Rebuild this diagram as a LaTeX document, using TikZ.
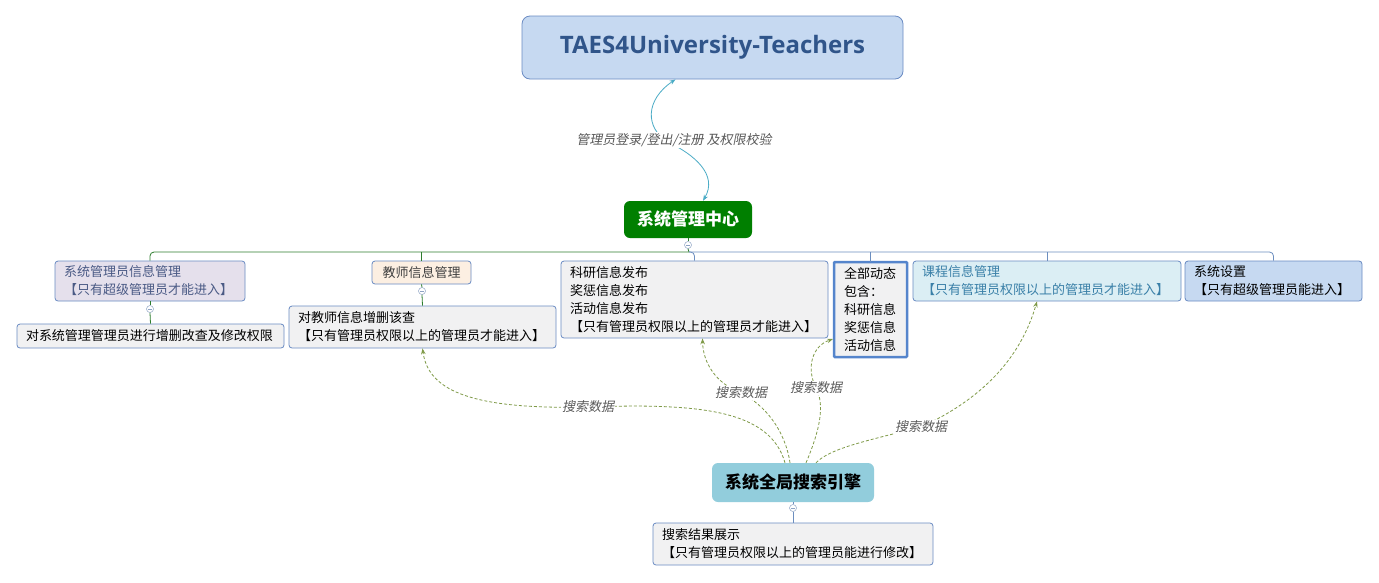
\documentclass[tikz,border=0pt]{standalone}
\usepackage{fontspec}
\setmainfont{Noto Sans CJK SC}
\newfontfamily\lblfont{Noto Sans CJK SC}[FakeSlant=0.2]
\newfontfamily\titlefont{Open Sans}
\usetikzlibrary{arrows.meta,calc}
\definecolor{bordc}{HTML}{6A8BC3}
\definecolor{qbbord}{HTML}{5585CC}
\definecolor{titlefill}{HTML}{C6D9F1}
\definecolor{titletext}{HTML}{30558A}
\definecolor{centergreen}{HTML}{007F00}
\definecolor{treegreen}{HTML}{2E7D2E}
\definecolor{treeblue}{HTML}{6C8EBF}
\definecolor{safill}{HTML}{E5E0EC}
\definecolor{satext}{HTML}{4A5A85}
\definecolor{tfill}{HTML}{FCEFE2}
\definecolor{grayfill}{HTML}{F1F1F2}
\definecolor{kcfill}{HTML}{DBEEF4}
\definecolor{kctext}{HTML}{3A80A8}
\definecolor{enginefill}{HTML}{92CDDC}
\definecolor{searchc}{HTML}{7F9A48}
\definecolor{loginc}{HTML}{4BACC6}
\definecolor{lblgray}{HTML}{595959}
\definecolor{collc}{HTML}{8EA3C4}
\tikzset{
  box/.style={draw=bordc, line width=0.8pt, rounded corners=3pt, inner xsep=9pt,
    inner ysep=0pt, align=left, font=\fontsize{13}{18}\selectfont},
  bigbox/.style={rounded corners=6pt, inner sep=0pt, align=center,
    font=\fontsize{17}{20}\selectfont\bfseries},
  collapse/.style={circle, draw=collc, fill=white, minimum size=7pt, inner sep=0pt,
    line width=0.5pt, path picture={\draw[collc, line width=0.5pt]
      ([xshift=-2pt]path picture bounding box.center) --
      ([xshift=2pt]path picture bounding box.center);}},
  search/.style={draw=searchc, line width=0.8pt, dash pattern=on 3pt off 2pt,
    -{Stealth[length=6pt,width=4.5pt,fill=searchc]}},
  lbl/.style={fill=white, inner sep=1pt, text=lblgray,
    font=\fontsize{13}{15}\lblfont},
  treeg/.style={draw=treegreen, line width=0.8pt, rounded corners=4pt},
  treeb/.style={draw=treeblue, line width=0.8pt, rounded corners=4pt},
}
\begin{document}
\begin{tikzpicture}[x=1pt,y=-1pt]
\fill[white] (0,0) rectangle (1379,582);
\useasboundingbox (0,0) rectangle (1379,582);

% title
\node[draw=bordc, fill=titlefill, line width=0.8pt, rounded corners=8pt,
  minimum width=381pt, minimum height=63pt, inner sep=0pt, text=titletext,
  font=\fontsize{24}{28}\titlefont\bfseries] (title) at (712.5,47.5) {TAES4University-Teachers};

% centre
\node[bigbox, fill=centergreen, text=white, minimum width=128pt, minimum height=37pt]
  (center) at (688,219.5) {系统管理中心};

% first level boxes
\node[box, fill=safill, text=satext, minimum width=190pt, minimum height=40pt, text width=172pt]
  (sa) at (150,281) {系统管理员信息管理\\【只有超级管理员才能进入】};
\node[box, fill=tfill, text=black!75, align=center, minimum width=99pt, minimum height=23pt, text width=81pt]
  (tc) at (421.5,272.5) {教师信息管理};
\node[box, fill=grayfill, minimum width=267pt, minimum height=77pt, text width=249pt]
  (ky) at (694.5,299.5) {科研信息发布\\奖惩信息发布\\活动信息发布\\【只有管理员权限以上的管理员才能进入】};
\node[box, draw=qbbord, line width=2.5pt, rounded corners=1pt, fill=grayfill,
  inner xsep=10pt, minimum width=73pt, minimum height=95pt, text width=53pt]
  (qb) at (870.5,309.5) {全部动态\\包含：\\科研信息\\奖惩信息\\活动信息};
\node[box, fill=kcfill, text=kctext, minimum width=268pt, minimum height=40pt, text width=250pt]
  (kc) at (1047,281) {课程信息管理\\【只有管理员权限以上的管理员才能进入】};
\node[box, fill=titlefill, minimum width=177pt, minimum height=40pt, text width=159pt]
  (ss) at (1273.5,281) {系统设置\\【只有超级管理员能进入】};

% second level
\node[box, fill=grayfill, minimum width=267pt, minimum height=24pt, text width=249pt]
  (sac) at (150.5,336) {对系统管理管理员进行增删改查及修改权限};
\node[box, fill=grayfill, minimum width=267pt, minimum height=42pt, text width=249pt]
  (tcc) at (422.5,327) {对教师信息增删该查\\【只有管理员权限以上的管理员才能进入】};

% engine
\node[bigbox, fill=enginefill, text=black, minimum width=162pt, minimum height=39pt]
  (engine) at (793,482.5) {系统全局搜索引擎};
\node[box, fill=grayfill, minimum width=280pt, minimum height=42pt, text width=262pt]
  (res) at (793,544) {搜索结果展示\\【只有管理员权限以上的管理员能进行修改】};

% collapse markers
\node[collapse] (c0) at (688,245) {};
\node[collapse] (c1) at (150,309) {};
\node[collapse] (c2) at (422,291) {};
\node[collapse] (c3) at (793,508) {};

% tree
\coordinate (hub) at (689,252);
\draw[treeg] (center.south) -- (c0.north);
\draw[treeg] (c0.south) -- (hub);
\draw[treeg] (hub) -| (sa.north);
\draw[treeg] (tc.north |- hub) -- (tc.north);
\draw[treeb] (hub) -| (ss.north);
\draw[treeb] (hub) -| (ky.north);
\draw[treeb] (qb.north |- hub) -- ([yshift=-1pt]qb.north);
\draw[treeb] (kc.north |- hub) -- (kc.north);
\draw[treeg] (sa.south) -- (c1.north);
\draw[treeg] (c1.south) -- (sac.north);
\draw[treeg] (tc.south) -- (c2.north);
\draw[treeg] (c2.south) -- (tcc.north);
\draw[treeb] (engine.south) -- (c3.north);
\draw[treeb] (c3.south) -- (res.north);

% login connector
\coordinate (lp) at (674,140);
\draw[draw=loginc, line width=0.8pt,
  {Stealth[length=6pt,width=4.5pt]}-{Stealth[length=6pt,width=4.5pt]}]
  ([xshift=-37pt]title.south) .. controls (645,100) and (645,128) .. (668,142)
  .. controls (695,155) and (718,175) .. ([xshift=15pt]center.north);
\node[lbl] (l0) at (lp) {管理员登录/登出/注册 及权限校验};

% search connectors
\coordinate (s1) at (588,407);
\coordinate (s2) at (741,393);
\coordinate (s3) at (816,388);
\coordinate (s4) at (921,427);
\coordinate (qbin) at (833,339);
\draw[search] ([xshift=-8pt]engine.north) .. controls (770,410) and (700,403) .. (s1)
  .. controls (465,410) and (428,388) .. (tcc.south);
\draw[search] ([xshift=-3pt]engine.north) .. controls (785,430) and (765,405) .. (s2)
  .. controls (715,383) and (703,362) .. ([xshift=8pt]ky.south);
\draw[search] ([xshift=13pt]engine.north) .. controls (820,430) and (825,405) .. (s3)
  .. controls (806,368) and (812,346) .. (qbin);
\draw[search] ([xshift=23pt]engine.north) .. controls (830,448) and (870,440) .. (s4)
  .. controls (980,400) and (1020,360) .. ([xshift=-10pt]kc.south);
\node[lbl] (l1) at (s1) {搜索数据};
\node[lbl] (l2) at (s2) {搜索数据};
\node[lbl] (l3) at (s3) {搜索数据};
\node[lbl] (l4) at (s4) {搜索数据};
\end{tikzpicture}
\end{document}
